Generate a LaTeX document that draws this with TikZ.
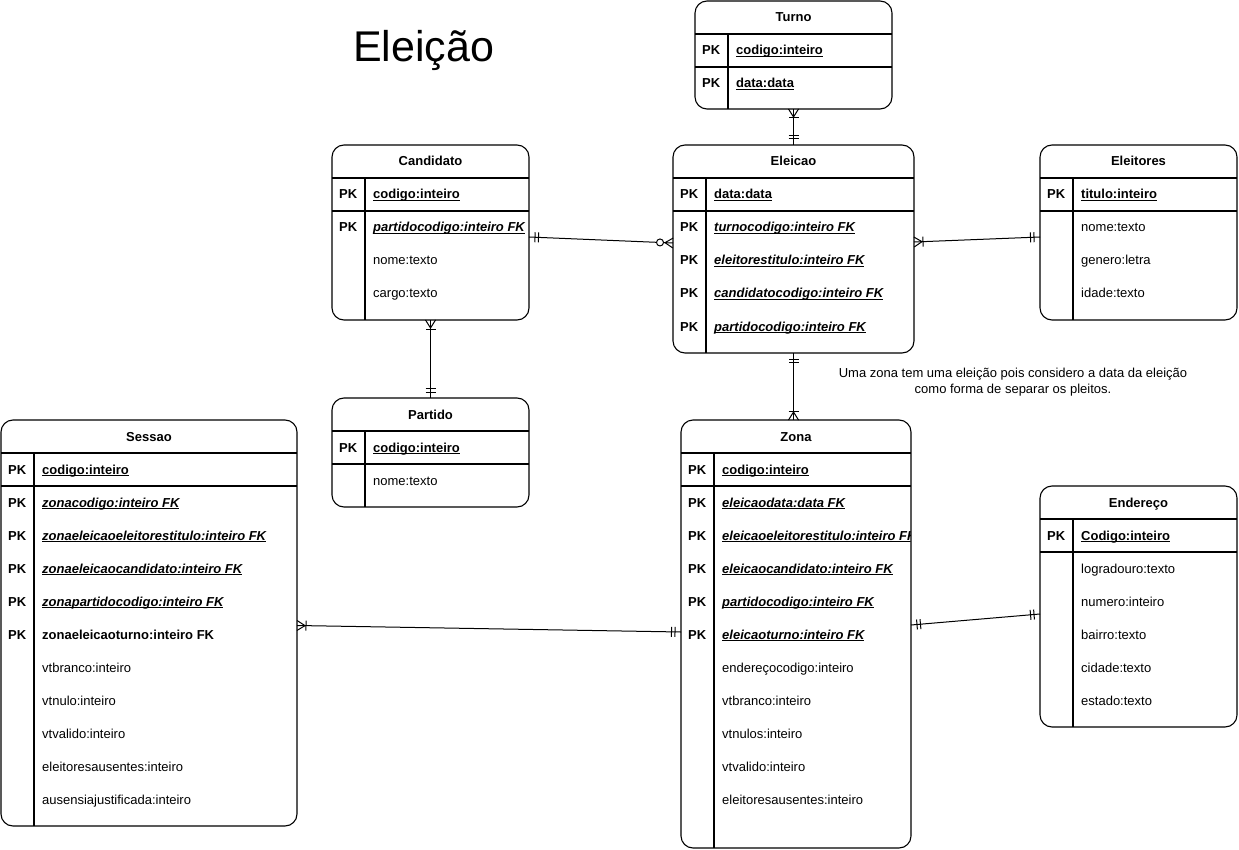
\documentclass[tikz,border=0pt]{standalone}
\usepackage{fontspec}
\setmainfont{Liberation Sans}
\usetikzlibrary{calc}
\newsavebox\ulbox
\newcommand\uln[1]{\sbox\ulbox{#1}\rlap{\rule[-2pt]{\wd\ulbox}{0.75pt}}\usebox\ulbox}
\newcommand\kpk[1]{\textbf{\uln{#1}}}
\newcommand\kfk[1]{\textbf{\textit{\uln{#1}}}}
\tikzset{
  tbl/.style={draw, line width=1.1pt, rounded corners=12pt, inner sep=0pt, outer sep=0pt},
  tline/.style={line width=1.1pt},
  hdr/.style={font=\fontsize{13}{15}\selectfont\bfseries, anchor=base, inner sep=0pt},
  pkc/.style={font=\fontsize{13}{15}\selectfont\bfseries, anchor=base west, inner sep=0pt},
  fld/.style={font=\fontsize{13}{15}\selectfont, anchor=base west, inner sep=0pt},
  conn/.style={line width=1pt},
  notetxt/.style={font=\fontsize{13}{16}\selectfont, align=center, inner sep=0pt},
  titletxt/.style={font=\fontsize{43}{48}\selectfont, anchor=base west, inner sep=0pt}
}
% table: name, x, y, w, h, title
\newcommand\ertable[6]{%
  \node[tbl, minimum width=#4pt, minimum height=#5pt, anchor=north west] (#1) at (#2,#3) {};
  \node[hdr] (#1-t) at ($(#1.north)+(0,21)$) {#6};
  \draw[tline] ($(#1.north west)+(0,33)$) -- ($(#1.north east)+(0,33)$);
  \draw[tline] ($(#1.north west)+(0,66)$) -- ($(#1.north east)+(0,66)$);
  \draw[tline] ($(#1.north west)+(33,33)$) -- ($(#1.south west)+(33,0)$);
}
% rows: table, index, text
\newcommand\pkcell[2]{%
  \node[pkc] (#1-p#2) at ($(#1.north west)+(7,{33*#2+21})$) {PK};
}
\newcommand\plrow[3]{%
  \node[fld] (#1-f#2) at ($(#1.north west)+(41,{33*#2+21})$) {#3};
}
\newcommand\pkrow[3]{\pkcell{#1}{#2}\plrow{#1}{#2}{#3}}
% markers: end point, other point
\newcommand\mone[2]{%
  \draw[conn] ($(#1)!6pt!(#2)!5pt!90:(#2)$) -- ($(#1)!6pt!(#2)!5pt!-90:(#2)$);
  \draw[conn] ($(#1)!9.5pt!(#2)!5pt!90:(#2)$) -- ($(#1)!9.5pt!(#2)!5pt!-90:(#2)$);
}
\newcommand\omany[2]{%
  \draw[conn] ($(#1)!5pt!90:(#2)$) -- ($(#1)!8pt!(#2)$) -- ($(#1)!5pt!-90:(#2)$);
  \draw[conn] ($(#1)!9pt!(#2)!5pt!90:(#2)$) -- ($(#1)!9pt!(#2)!5pt!-90:(#2)$);
}
\newcommand\zmany[2]{%
  \draw[conn] ($(#1)!5pt!90:(#2)$) -- ($(#1)!8pt!(#2)$) -- ($(#1)!5pt!-90:(#2)$);
  \draw[conn, fill=white] ($(#1)!13pt!(#2)$) circle[radius=3.5pt];
}
\begin{document}
\begin{tikzpicture}[x=1pt,y=-1pt]
\useasboundingbox[fill=white] (0,0) rectangle (1239,850);

\node[titletxt] (title) at (353,62) {Eleição};

% Turno
\ertable{turno}{695}{1}{197}{108}{Turno}
\pkrow{turno}{1}{\kpk{codigo:inteiro}}
\pkrow{turno}{2}{\kpk{data:data}}

% Candidato
\ertable{cand}{332}{145}{197}{175}{Candidato}
\pkrow{cand}{1}{\kpk{codigo:inteiro}}
\pkrow{cand}{2}{\kfk{partidocodigo:inteiro FK}}
\plrow{cand}{3}{nome:texto}
\plrow{cand}{4}{cargo:texto}

% Eleicao
\ertable{elei}{673}{145}{241}{208}{Eleicao}
\pkrow{elei}{1}{\kpk{data:data}}
\pkrow{elei}{2}{\kfk{turnocodigo:inteiro FK}}
\pkrow{elei}{3}{\kfk{eleitorestitulo:inteiro FK}}
\pkrow{elei}{4}{\kfk{candidatocodigo:inteiro FK}}
\pkrow{elei}{5}{\kfk{partidocodigo:inteiro FK}}

% Eleitores
\ertable{eltr}{1040}{145}{197}{175}{Eleitores}
\pkrow{eltr}{1}{\kpk{titulo:inteiro}}
\plrow{eltr}{2}{nome:texto}
\plrow{eltr}{3}{genero:letra}
\plrow{eltr}{4}{idade:texto}

% Partido
\ertable{part}{332}{398}{197}{109}{Partido}
\pkrow{part}{1}{\kpk{codigo:inteiro}}
\plrow{part}{2}{nome:texto}

% Sessao
\ertable{sess}{1}{420}{296}{406}{Sessao}
\pkrow{sess}{1}{\kpk{codigo:inteiro}}
\pkrow{sess}{2}{\kfk{zonacodigo:inteiro FK}}
\pkrow{sess}{3}{\kfk{zonaeleicaoeleitorestitulo:inteiro FK}}
\pkrow{sess}{4}{\kfk{zonaeleicaocandidato:inteiro FK}}
\pkrow{sess}{5}{\kfk{zonapartidocodigo:inteiro FK}}
\pkrow{sess}{6}{\textbf{zonaeleicaoturno:inteiro FK}}
\plrow{sess}{7}{vtbranco:inteiro}
\plrow{sess}{8}{vtnulo:inteiro}
\plrow{sess}{9}{vtvalido:inteiro}
\plrow{sess}{10}{eleitoresausentes:inteiro}
\plrow{sess}{11}{ausensiajustificada:inteiro}

% Zona
\ertable{zona}{681}{420}{230}{428}{Zona}
\pkrow{zona}{1}{\kpk{codigo:inteiro}}
\pkrow{zona}{2}{\kfk{eleicaodata:data FK}}
\pkcell{zona}{3}
\begin{scope}
  \clip (713,486) rectangle (910.5,848);
  \plrow{zona}{3}{\kfk{eleicaoeleitorestitulo:inteiro FK}}
\end{scope}
\pkrow{zona}{4}{\kfk{eleicaocandidato:inteiro FK}}
\pkrow{zona}{5}{\kfk{partidocodigo:inteiro FK}}
\pkrow{zona}{6}{\kfk{eleicaoturno:inteiro FK}}
\plrow{zona}{7}{endereçocodigo:inteiro}
\plrow{zona}{8}{vtbranco:inteiro}
\plrow{zona}{9}{vtnulos:inteiro}
\plrow{zona}{10}{vtvalido:inteiro}
\plrow{zona}{11}{eleitoresausentes:inteiro}

% Endereco
\ertable{ende}{1040}{486}{197}{241}{Endereço}
\pkrow{ende}{1}{\kpk{Codigo:inteiro}}
\plrow{ende}{2}{logradouro:texto}
\plrow{ende}{3}{numero:inteiro}
\plrow{ende}{4}{bairro:texto}
\plrow{ende}{5}{cidade:texto}
\plrow{ende}{6}{estado:texto}

% note
\node[notetxt] (note) at (1013,382) {Uma zona tem uma eleição pois considero a data da eleição\\como forma de separar os pleitos.};

% connector end points
\coordinate (tuA) at (turno.south);
\coordinate (tuB) at (elei.north -| turno.south);
\coordinate (ceA) at ([yshift=-4.5pt]cand.east);
\coordinate (ceB) at ([yshift=6pt]elei.west);
\coordinate (etA) at ([yshift=-4.5pt]eltr.west);
\coordinate (etB) at ([yshift=7pt]elei.east);
\coordinate (cpA) at (cand.south);
\coordinate (cpB) at (part.north);
\coordinate (ezA) at (elei.south);
\coordinate (ezB) at (zona.north -| elei.south);
\coordinate (szA) at ([yshift=-2.5pt]sess.east);
\coordinate (szB) at ([yshift=2pt]zona.west);
\coordinate (zeA) at ([yshift=9pt]zona.east);
\coordinate (zeB) at ([yshift=-7.5pt]ende.west);

\draw[conn] (tuA) -- (tuB);
\draw[conn] (ceA) -- (ceB);
\draw[conn] (etA) -- (etB);
\draw[conn] (cpA) -- (cpB);
\draw[conn] (ezA) -- (ezB);
\draw[conn] (szA) -- (szB);
\draw[conn] (zeA) -- (zeB);

\omany{tuA}{tuB} \mone{tuB}{tuA}
\mone{ceA}{ceB} \zmany{ceB}{ceA}
\mone{etA}{etB} \omany{etB}{etA}
\omany{cpA}{cpB} \mone{cpB}{cpA}
\mone{ezA}{ezB} \omany{ezB}{ezA}
\omany{szA}{szB} \mone{szB}{szA}
\mone{zeA}{zeB} \mone{zeB}{zeA}
\end{tikzpicture}
\end{document}
